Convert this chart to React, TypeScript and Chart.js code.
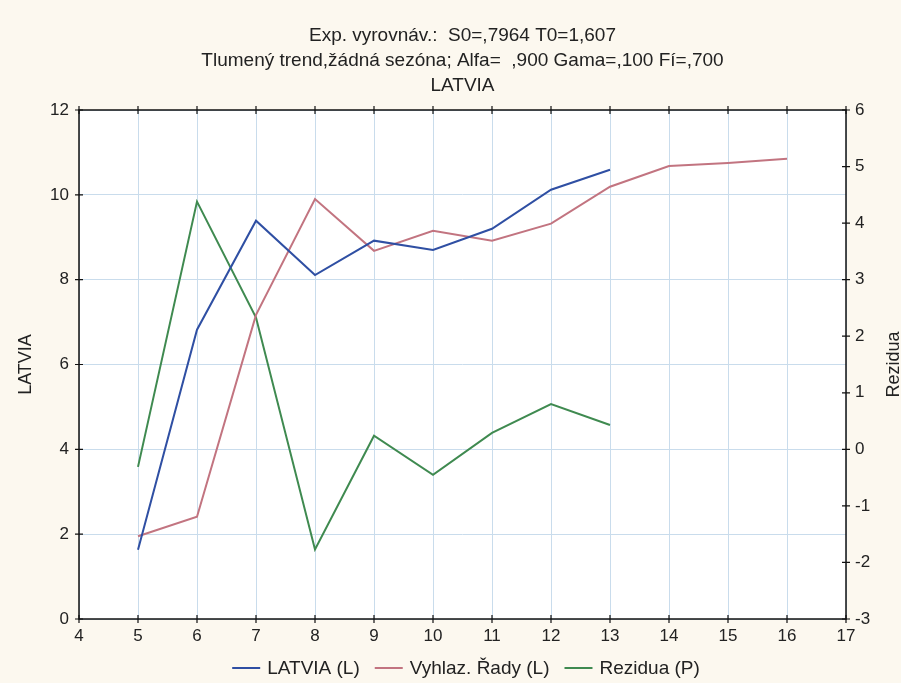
import React, { useEffect, useRef } from "react";
import { Chart, registerables } from "chart.js";

Chart.register(...registerables);

const latvia: number[] = [1.63, 6.82, 9.39, 8.11, 8.92, 8.7, 9.2, 10.12, 10.59];
const latviaX: number[] = [5, 6, 7, 8, 9, 10, 11, 12, 13];
const smoothed: number[] = [1.95, 2.41, 7.17, 9.9, 8.68, 9.15, 8.92, 9.32, 10.19, 10.68, 10.75, 10.85];
const smoothedX: number[] = [5, 6, 7, 8, 9, 10, 11, 12, 13, 14, 15, 16];
const residuals: number[] = [-0.31, 4.38, 2.33, -1.77, 0.24, -0.45, 0.29, 0.8, 0.43];
const residualsX: number[] = [5, 6, 7, 8, 9, 10, 11, 12, 13];

const titleLines: string[] = [
  "Exp. vyrovnáv.:  S0=,7964 T0=1,607",
  "Tlumený trend,žádná sezóna; Alfa=  ,900 Gama=,100 Fí=,700",
  "LATVIA",
];
const legendLabels: string[] = ["LATVIA (L)", "Vyhlaz. Řady (L)", "Rezidua (P)"];
const leftAxisTitle = "LATVIA";
const rightAxisTitle = "Rezidua";

const colors = ["#2f4fa3", "#c27480", "#3f8a50"];
const FONT = "Arial, 'Liberation Sans', sans-serif";

const W = 901;
const H = 683;

export default function App() {
  const ref = useRef<HTMLCanvasElement | null>(null);

  useEffect(() => {
    document.body.style.margin = "0";
    const canvas = ref.current;
    if (!canvas) return;

    const deco = {
      id: "deco",
      beforeDraw(chart: any) {
        const { ctx, chartArea: a } = chart;
        ctx.save();
        ctx.fillStyle = "#fcf8ef";
        ctx.fillRect(0, 0, W, H);
        ctx.fillStyle = "#ffffff";
        ctx.fillRect(a.left, a.top, a.right - a.left, a.bottom - a.top);
        ctx.restore();
      },
      afterDraw(chart: any) {
        const { ctx, chartArea: a, scales } = chart;
        ctx.save();
        // frame
        ctx.strokeStyle = "#111";
        ctx.lineWidth = 1.5;
        ctx.strokeRect(a.left, a.top, a.right - a.left, a.bottom - a.top);
        // tick marks crossing axes
        ctx.lineWidth = 1.2;
        ctx.beginPath();
        for (let v = 0; v <= 12; v += 2) {
          const y = scales.y.getPixelForValue(v);
          ctx.moveTo(a.left - 4, y);
          ctx.lineTo(a.left + 4, y);
        }
        for (let v = -3; v <= 6; v += 1) {
          const y = scales.y1.getPixelForValue(v);
          ctx.moveTo(a.right - 4, y);
          ctx.lineTo(a.right + 4, y);
        }
        for (let v = 4; v <= 17; v += 1) {
          const x = scales.x.getPixelForValue(v);
          ctx.moveTo(x, a.bottom - 4);
          ctx.lineTo(x, a.bottom + 4);
          ctx.moveTo(x, a.top - 4);
          ctx.lineTo(x, a.top + 4);
        }
        ctx.stroke();

        const cx = (a.left + a.right) / 2;
        ctx.fillStyle = "#222";
        ctx.textAlign = "center";
        ctx.textBaseline = "middle";
        ctx.font = `19px ${FONT}`;
        const ty = [36, 61, 86];
        titleLines.forEach((t, i) => ctx.fillText(t, cx, ty[i]));

        // axis titles
        ctx.font = `18px ${FONT}`;
        const my = (a.top + a.bottom) / 2;
        ctx.save();
        ctx.translate(26, my);
        ctx.rotate(-Math.PI / 2);
        ctx.fillText(leftAxisTitle, 0, 0);
        ctx.restore();
        ctx.save();
        ctx.translate(894, my);
        ctx.rotate(-Math.PI / 2);
        ctx.fillText(rightAxisTitle, 0, 0);
        ctx.restore();

        // legend
        ctx.font = `19px ${FONT}`;
        const seg = 28;
        const gapText = 7;
        const gapItem = 15;
        const widths = legendLabels.map((l) => ctx.measureText(l).width);
        const total = widths.reduce((s, w) => s + seg + gapText + w, 0) + gapItem * (legendLabels.length - 1);
        let x = 466 - total / 2;
        const ly = 668;
        ctx.textAlign = "left";
        legendLabels.forEach((l, i) => {
          ctx.strokeStyle = colors[i];
          ctx.lineWidth = 2;
          ctx.beginPath();
          ctx.moveTo(x, ly);
          ctx.lineTo(x + seg, ly);
          ctx.stroke();
          ctx.fillStyle = "#222";
          ctx.fillText(l, x + seg + gapText, ly + 1);
          x += seg + gapText + widths[i] + gapItem;
        });
        ctx.restore();
      },
    };

    const mk = (xs: number[], ys: number[]) => xs.map((x, i) => ({ x, y: ys[i] }));

    const chart = new Chart(canvas, {
      type: "line",
      data: {
        datasets: [
          { label: legendLabels[0], data: mk(latviaX, latvia), borderColor: colors[0], borderWidth: 2, pointRadius: 0, yAxisID: "y", tension: 0 },
          { label: legendLabels[1], data: mk(smoothedX, smoothed), borderColor: colors[1], borderWidth: 2, pointRadius: 0, yAxisID: "y", tension: 0 },
          { label: legendLabels[2], data: mk(residualsX, residuals), borderColor: colors[2], borderWidth: 2, pointRadius: 0, yAxisID: "y1", tension: 0 },
        ],
      },
      options: {
        responsive: false,
        animation: false,
        layout: { padding: { top: 110, left: 0, right: 0, bottom: 0 } },
        plugins: { legend: { display: false }, title: { display: false }, tooltip: { enabled: false } },
        scales: {
          x: {
            type: "linear",
            min: 4,
            max: 17,
            ticks: { stepSize: 1, color: "#222", font: { size: 17, family: FONT }, padding: 7, maxRotation: 0 },
            grid: { color: "#c9dcec", lineWidth: 1, drawTicks: false },
            border: { display: false },
            afterFit: (s: any) => { s.height = H - 619; },
          },
          y: {
            type: "linear",
            position: "left",
            min: 0,
            max: 12,
            ticks: { stepSize: 2, color: "#222", font: { size: 17, family: FONT }, padding: 10 },
            grid: { color: "#c9dcec", lineWidth: 1, drawTicks: false },
            border: { display: false },
            afterFit: (s: any) => { s.width = 79; },
          },
          y1: {
            type: "linear",
            position: "right",
            min: -3,
            max: 6,
            ticks: { stepSize: 1, color: "#222", font: { size: 17, family: FONT }, padding: 9 },
            grid: { drawOnChartArea: false, drawTicks: false },
            border: { display: false },
            afterFit: (s: any) => { s.width = W - 846; },
          },
        },
      },
      plugins: [deco],
    } as any);

    return () => chart.destroy();
  }, []);

  return (
    <div style={{ width: W, height: H }}>
      <canvas ref={ref} width={W} height={H} style={{ display: "block" }} />
    </div>
  );
}
